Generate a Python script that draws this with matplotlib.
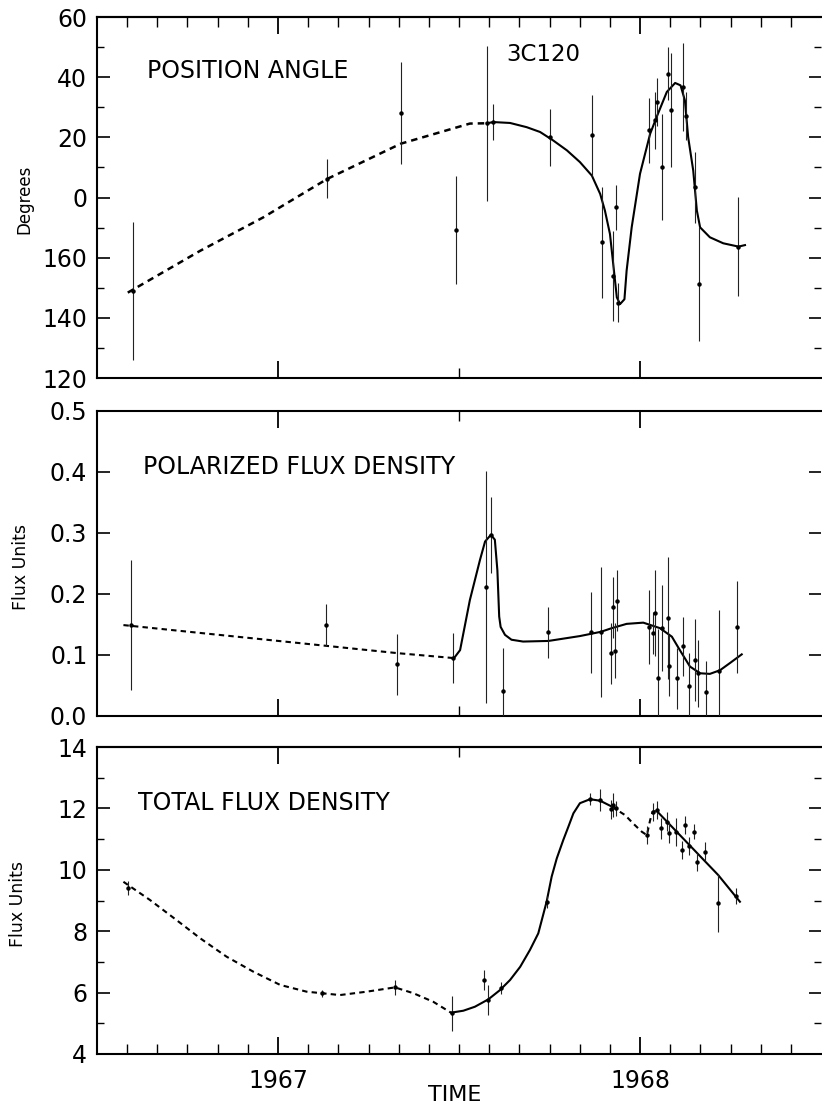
import numpy as np
import matplotlib.pyplot as plt
from matplotlib.ticker import FixedLocator, NullFormatter

plt.rcParams['font.family'] = ['DejaVu Sans']

# ---- position angle (degrees, 0-180) ----
pa_t = [1966.599, 1967.135, 1967.339, 1967.491, 1967.578, 1967.593, 1967.751,
        1967.867, 1967.894, 1967.925, 1967.934, 1967.940, 1968.026, 1968.041,
        1968.048, 1968.062, 1968.078, 1968.086, 1968.120, 1968.127, 1968.152,
        1968.163, 1968.272]
pa_deg = [149, 6.3, 28, 169.3, 24.7, 25, 20, 20.7, 165.1, 154, 176.7, 145.1,
          22.3, 25.7, 31.8, 10.1, 41.2, 29, 36.8, 27, 3.4, 151.2, 163.7]
pa_err = [23, 6.5, 17, 18, 25.7, 6, 9.5, 13.5, 18.5, 15, 7.5, 6.5, 10.7, 9.5,
          8, 17.7, 8.7, 19, 14.7, 8, 11.7, 19, 16.5]

pa_dash_t = [1966.585, 1966.785, 1966.959, 1967.136, 1967.339, 1967.530, 1967.577]
pa_dash = [148.4, 162.3, 173.4, 6.2, 17.9, 24.6, 24.7]
pa_fit_t = [1967.577, 1967.595, 1967.641, 1967.687, 1967.724, 1967.760, 1967.798,
            1967.834, 1967.867, 1967.890, 1967.903, 1967.917, 1967.926, 1967.936,
            1967.945, 1967.957, 1967.963, 1967.977, 1968.000, 1968.028, 1968.046,
            1968.074, 1968.097, 1968.112, 1968.124, 1968.133, 1968.147, 1968.157,
            1968.166, 1968.193, 1968.230, 1968.272, 1968.290]
pa_fit = [24.7, 25.1, 24.8, 23.4, 21.8, 19.0, 15.7, 11.8, 7.3, 1.2, 175.7, 167.9,
          157.9, 146.8, 144.6, 146.2, 155.7, 170.1, 7.9, 21.2, 26.8, 35.1, 38.1,
          37.3, 32.3, 20.1, 9, 175.7, 170.1, 166.8, 164.8, 163.7, 164.2]

# ---- polarized flux density ----
pol_t = [1966.593, 1967.133, 1967.330, 1967.484, 1967.575, 1967.588, 1967.622,
         1967.747, 1967.865, 1967.892, 1967.919, 1967.925, 1967.931, 1967.937,
         1968.025, 1968.036, 1968.041, 1968.051, 1968.060, 1968.078, 1968.081,
         1968.101, 1968.120, 1968.136, 1968.152, 1968.161, 1968.182, 1968.219,
         1968.269]
pol_val = [0.149, 0.149, 0.085, 0.095, 0.212, 0.297, 0.041, 0.137, 0.137, 0.138,
           0.103, 0.178, 0.107, 0.189, 0.146, 0.136, 0.169, 0.062, 0.144, 0.160,
           0.082, 0.062, 0.114, 0.049, 0.092, 0.070, 0.040, 0.073, 0.146]
pol_err = [0.106, 0.034, 0.050, 0.041, 0.190, 0.062, 0.070, 0.042, 0.066, 0.107,
           0.050, 0.050, 0.045, 0.050, 0.060, 0.035, 0.070, 0.080, 0.070, 0.100,
           0.050, 0.050, 0.048, 0.055, 0.067, 0.055, 0.050, 0.100, 0.075]

pol_dash_t = [1966.573, 1967.133, 1967.330, 1967.484]
pol_dash = [0.149, 0.115, 0.103, 0.095]
pol_fit_t = [1967.484, 1967.489, 1967.503, 1967.530, 1967.558, 1967.572, 1967.588,
             1967.599, 1967.606, 1967.611, 1967.615, 1967.627, 1967.645, 1967.677,
             1967.747, 1967.834, 1967.892, 1967.922, 1967.963, 1968.009, 1968.055,
             1968.088, 1968.110, 1968.138, 1968.166, 1968.193, 1968.221, 1968.249,
             1968.281]
pol_fit = [0.095, 0.097, 0.108, 0.190, 0.256, 0.286, 0.297, 0.289, 0.239, 0.163,
           0.146, 0.133, 0.125, 0.122, 0.123, 0.131, 0.138, 0.144, 0.151, 0.153,
           0.144, 0.130, 0.108, 0.081, 0.070, 0.069, 0.075, 0.087, 0.101]

# ---- total flux density ----
tot_t = [1966.586, 1967.121, 1967.323, 1967.480, 1967.569, 1967.579, 1967.615,
         1967.742, 1967.862, 1967.890, 1967.919, 1967.925, 1967.934, 1968.019,
         1968.037, 1968.048, 1968.057, 1968.074, 1968.080, 1968.099, 1968.115,
         1968.124, 1968.135, 1968.150, 1968.157, 1968.180, 1968.216, 1968.264]
tot_val = [9.40, 5.98, 6.17, 5.33, 6.41, 5.76, 6.14, 8.96, 12.30, 12.27, 11.97,
           12.11, 12.00, 11.13, 11.89, 11.95, 11.35, 11.57, 11.21, 11.24, 10.64,
           11.46, 10.78, 11.24, 10.26, 10.59, 8.91, 9.15]
tot_err = [0.22, 0.12, 0.25, 0.57, 0.34, 0.49, 0.20, 0.20, 0.20, 0.35, 0.30, 0.40,
           0.25, 0.30, 0.30, 0.30, 0.35, 0.30, 0.35, 0.45, 0.30, 0.30, 0.30, 0.25,
           0.30, 0.30, 0.95, 0.25]

tot_dash1_t = [1966.573, 1966.646, 1966.720, 1966.785, 1966.858, 1966.932, 1967.006,
               1967.079, 1967.121, 1967.171, 1967.245, 1967.323, 1967.374, 1967.429,
               1967.480]
tot_dash1 = [9.61, 9.02, 8.36, 7.77, 7.17, 6.68, 6.25, 6.03, 5.98, 5.92, 6.03, 6.17,
             5.98, 5.70, 5.33]
tot_fit1_t = [1967.480, 1967.512, 1967.544, 1967.581, 1967.613, 1967.641, 1967.669,
              1967.696, 1967.719, 1967.742, 1967.756, 1967.770, 1967.788,
              1967.802, 1967.816, 1967.834, 1967.862, 1967.890, 1967.922]
tot_fit1 = [5.35, 5.41, 5.54, 5.78, 6.08, 6.41, 6.84, 7.39, 7.93, 8.96, 9.78,
            10.37, 10.97, 11.40, 11.84, 12.17, 12.30, 12.25, 12.06]
tot_dash2_t = [1967.922, 1967.959, 1967.981, 1968.005, 1968.019, 1968.028, 1968.035,
               1968.046]
tot_dash2 = [12.06, 11.78, 11.51, 11.24, 11.13, 11.62, 11.89, 11.92]
tot_fit2_t = [1968.046, 1968.216, 1968.276]
tot_fit2 = [11.92, 9.83, 8.96]


def wrap(a):
    # position angle is mod 180: show 90..180 as negative below the 0 line
    a = np.asarray(a, dtype=float)
    return np.where(a > 90, a - 180, a)


months = [1966 + m / 12 for m in range(7, 30) if m % 12 != 0]
dash = (0, (2.6, 2.0))
LW = 1.5


def style(ax):
    ax.set_xlim(1966.5, 1968.5)
    for s in ('left', 'top', 'bottom'):
        ax.spines[s].set_linewidth(1.5)
    ax.spines['right'].set_visible(False)
    ax.tick_params(axis='y', which='major', direction='in', length=9, width=1.2,
                   left=True, right=True, labelsize=17, pad=7)
    ax.tick_params(axis='y', which='minor', direction='in', length=5, width=1,
                   left=True, right=True)
    ax.tick_params(axis='x', which='major', direction='in', length=12, width=1.3)
    ax.tick_params(axis='x', which='minor', direction='in', length=7, width=1)


def err(ax, t, v, e):
    ax.errorbar(t, v, yerr=e, fmt='o', ms=2.2, color='k', ecolor='#222222',
                elinewidth=0.8, capsize=0, zorder=3)


fig = plt.figure(figsize=(8.22, 11.09), dpi=100)
ax1 = fig.add_axes([0.118, 0.6591, 0.8808, 0.3255])
ax2 = fig.add_axes([0.118, 0.3544, 0.8808, 0.2750])
ax3 = fig.add_axes([0.118, 0.0496, 0.8808, 0.2768])

# panel 1
style(ax1)
ax1.set_ylim(-60, 60)
ax1.yaxis.set_major_locator(FixedLocator([-60, -40, -20, 0, 20, 40, 60]))
ax1.set_yticklabels(['120', '140', '160', '0', '20', '40', '60'])
ax1.yaxis.set_minor_locator(FixedLocator(np.arange(-50, 60, 20)))
ax1.set_xticks([1967, 1968])
ax1.set_xticks([1967.5], minor=True)
ax1.tick_params(axis='x', which='both', labelbottom=False, top=False)
top1 = ax1.secondary_xaxis('top')
top1.set_xticks([1967, 1968])
top1.set_xticks(months, minor=True)
top1.xaxis.set_major_formatter(NullFormatter())
top1.tick_params(which='major', direction='in', length=12, width=1.3)
top1.tick_params(which='minor', direction='in', length=7, width=1)
top1.spines['top'].set_linewidth(1.5)
ax1.plot(pa_dash_t, wrap(pa_dash), color='k', lw=1.8, ls=dash)
ax1.plot(pa_fit_t, wrap(pa_fit), color='k', lw=LW)
err(ax1, pa_t, wrap(pa_deg), pa_err)
ax1.text(0.069, 0.850, 'POSITION ANGLE', transform=ax1.transAxes, fontsize=17,
         va='center', ha='left')
ax1.text(0.566, 0.895, '3C120', transform=ax1.transAxes, fontsize=16.5,
         va='center', ha='left')

# panel 2
style(ax2)
ax2.set_ylim(0, 0.5)
ax2.yaxis.set_major_locator(FixedLocator([0, 0.1, 0.2, 0.3, 0.4, 0.5]))
ax2.set_yticklabels(['0.0', '0.1', '0.2', '0.3', '0.4', '0.5'])
ax2.set_xticks([1967, 1968])
ax2.set_xticks([1967.5], minor=True)
ax2.tick_params(axis='x', which='both', labelbottom=False, top=True, bottom=True)
ax2.plot(pol_dash_t, pol_dash, color='k', lw=1.5, ls=dash)
ax2.plot(pol_fit_t, pol_fit, color='k', lw=LW)
err(ax2, pol_t, pol_val, pol_err)
ax2.text(0.0635, 0.816, 'POLARIZED FLUX DENSITY', transform=ax2.transAxes,
         fontsize=17, va='center', ha='left')

# panel 3
style(ax3)
ax3.set_ylim(4, 14)
ax3.yaxis.set_major_locator(FixedLocator(np.arange(4, 15, 2)))
ax3.yaxis.set_minor_locator(FixedLocator(np.arange(5, 14, 2)))
ax3.set_xticks([1967, 1968])
ax3.set_xticklabels(['1967', '1968'])
ax3.set_xticks(months, minor=True)
ax3.tick_params(axis='x', which='major', labelsize=17, pad=11, top=False)
ax3.tick_params(axis='x', which='minor', top=False)
top3 = ax3.secondary_xaxis('top')
top3.set_xticks([1967, 1968])
top3.set_xticks([1967.5], minor=True)
top3.xaxis.set_major_formatter(NullFormatter())
top3.tick_params(which='major', direction='in', length=12, width=1.3)
top3.tick_params(which='minor', direction='in', length=7, width=1)
top3.spines['top'].set_linewidth(1.5)
ax3.plot(tot_dash1_t, tot_dash1, color='k', lw=1.5, ls=dash)
ax3.plot(tot_fit1_t, tot_fit1, color='k', lw=LW)
ax3.plot(tot_dash2_t, tot_dash2, color='k', lw=1.5, ls=dash)
ax3.plot(tot_fit2_t, tot_fit2, color='k', lw=LW)
err(ax3, tot_t, tot_val, tot_err)
ax3.text(0.0566, 0.818, 'TOTAL FLUX DENSITY', transform=ax3.transAxes,
         fontsize=17, va='center', ha='left')

fig.text(24 / 822, 1 - 199 / 1109, 'Degrees', rotation=90, fontsize=12,
         ha='center', va='center')
fig.text(21 / 822, 1 - 567 / 1109, 'Flux Units', rotation=90, fontsize=12.5,
         ha='center', va='center')
fig.text(18 / 822, 1 - 904 / 1109, 'Flux Units', rotation=90, fontsize=12.5,
         ha='center', va='center')
fig.text(455 / 822, 1 - 1095 / 1109, 'TIME', fontsize=16, ha='center', va='center')

fig.savefig('out.png', dpi=100)
